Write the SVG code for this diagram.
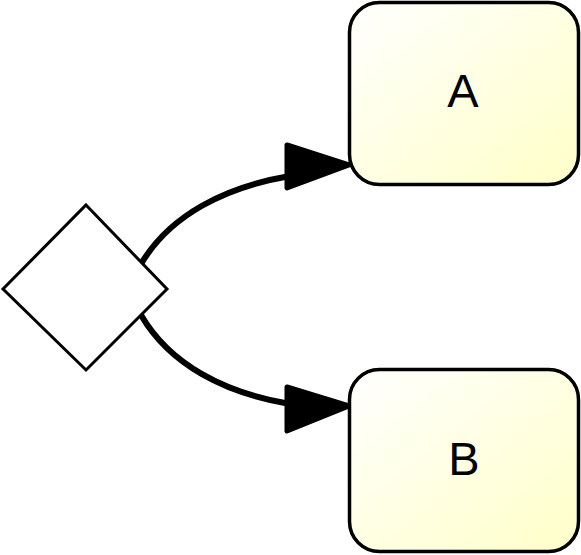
<svg xmlns="http://www.w3.org/2000/svg" width="581" height="555" viewBox="0 0 581 555">
<style>
.node{stroke:#000;stroke-width:3.5;fill:url(#g)}
.lbl{font-family:"Liberation Sans",Arial,sans-serif;font-size:47px;fill:#000;text-anchor:middle}
.edge{fill:none;stroke:#000;stroke-width:6}
.head{fill:#000;stroke:#000;stroke-width:5;stroke-linejoin:round}
</style>
<defs>
<linearGradient id="g" x1="0" y1="0" x2="1" y2="1">
<stop offset="0" stop-color="#ffffff"/>
<stop offset="1" stop-color="#ffffc8"/>
</linearGradient>
</defs>
<rect width="581" height="555" fill="#fff"/>
<g id="edges">
<path class="edge" d="M141,264 C170,215 225,187 290,176"/>
<path class="head" d="M287,145 L349,165 L287,188 Z"/>
<path class="edge" d="M141,315 C170,365 225,393 290,404"/>
<path class="head" d="M287,387 L349,406 L287,431 Z"/>
</g>
<g id="gateway">
<path d="M86,205 L167,289 L86,370 L3,289 Z" fill="#fff" stroke="#000" stroke-width="3"/>
</g>
<g id="nodeA">
<rect class="node" x="349.5" y="2.5" width="229" height="182" rx="30"/>
<text class="lbl" x="463" y="107">A</text>
</g>
<g id="nodeB">
<rect class="node" x="349.5" y="369.5" width="229" height="182" rx="30"/>
<text class="lbl" x="464" y="475">B</text>
</g>
</svg>
